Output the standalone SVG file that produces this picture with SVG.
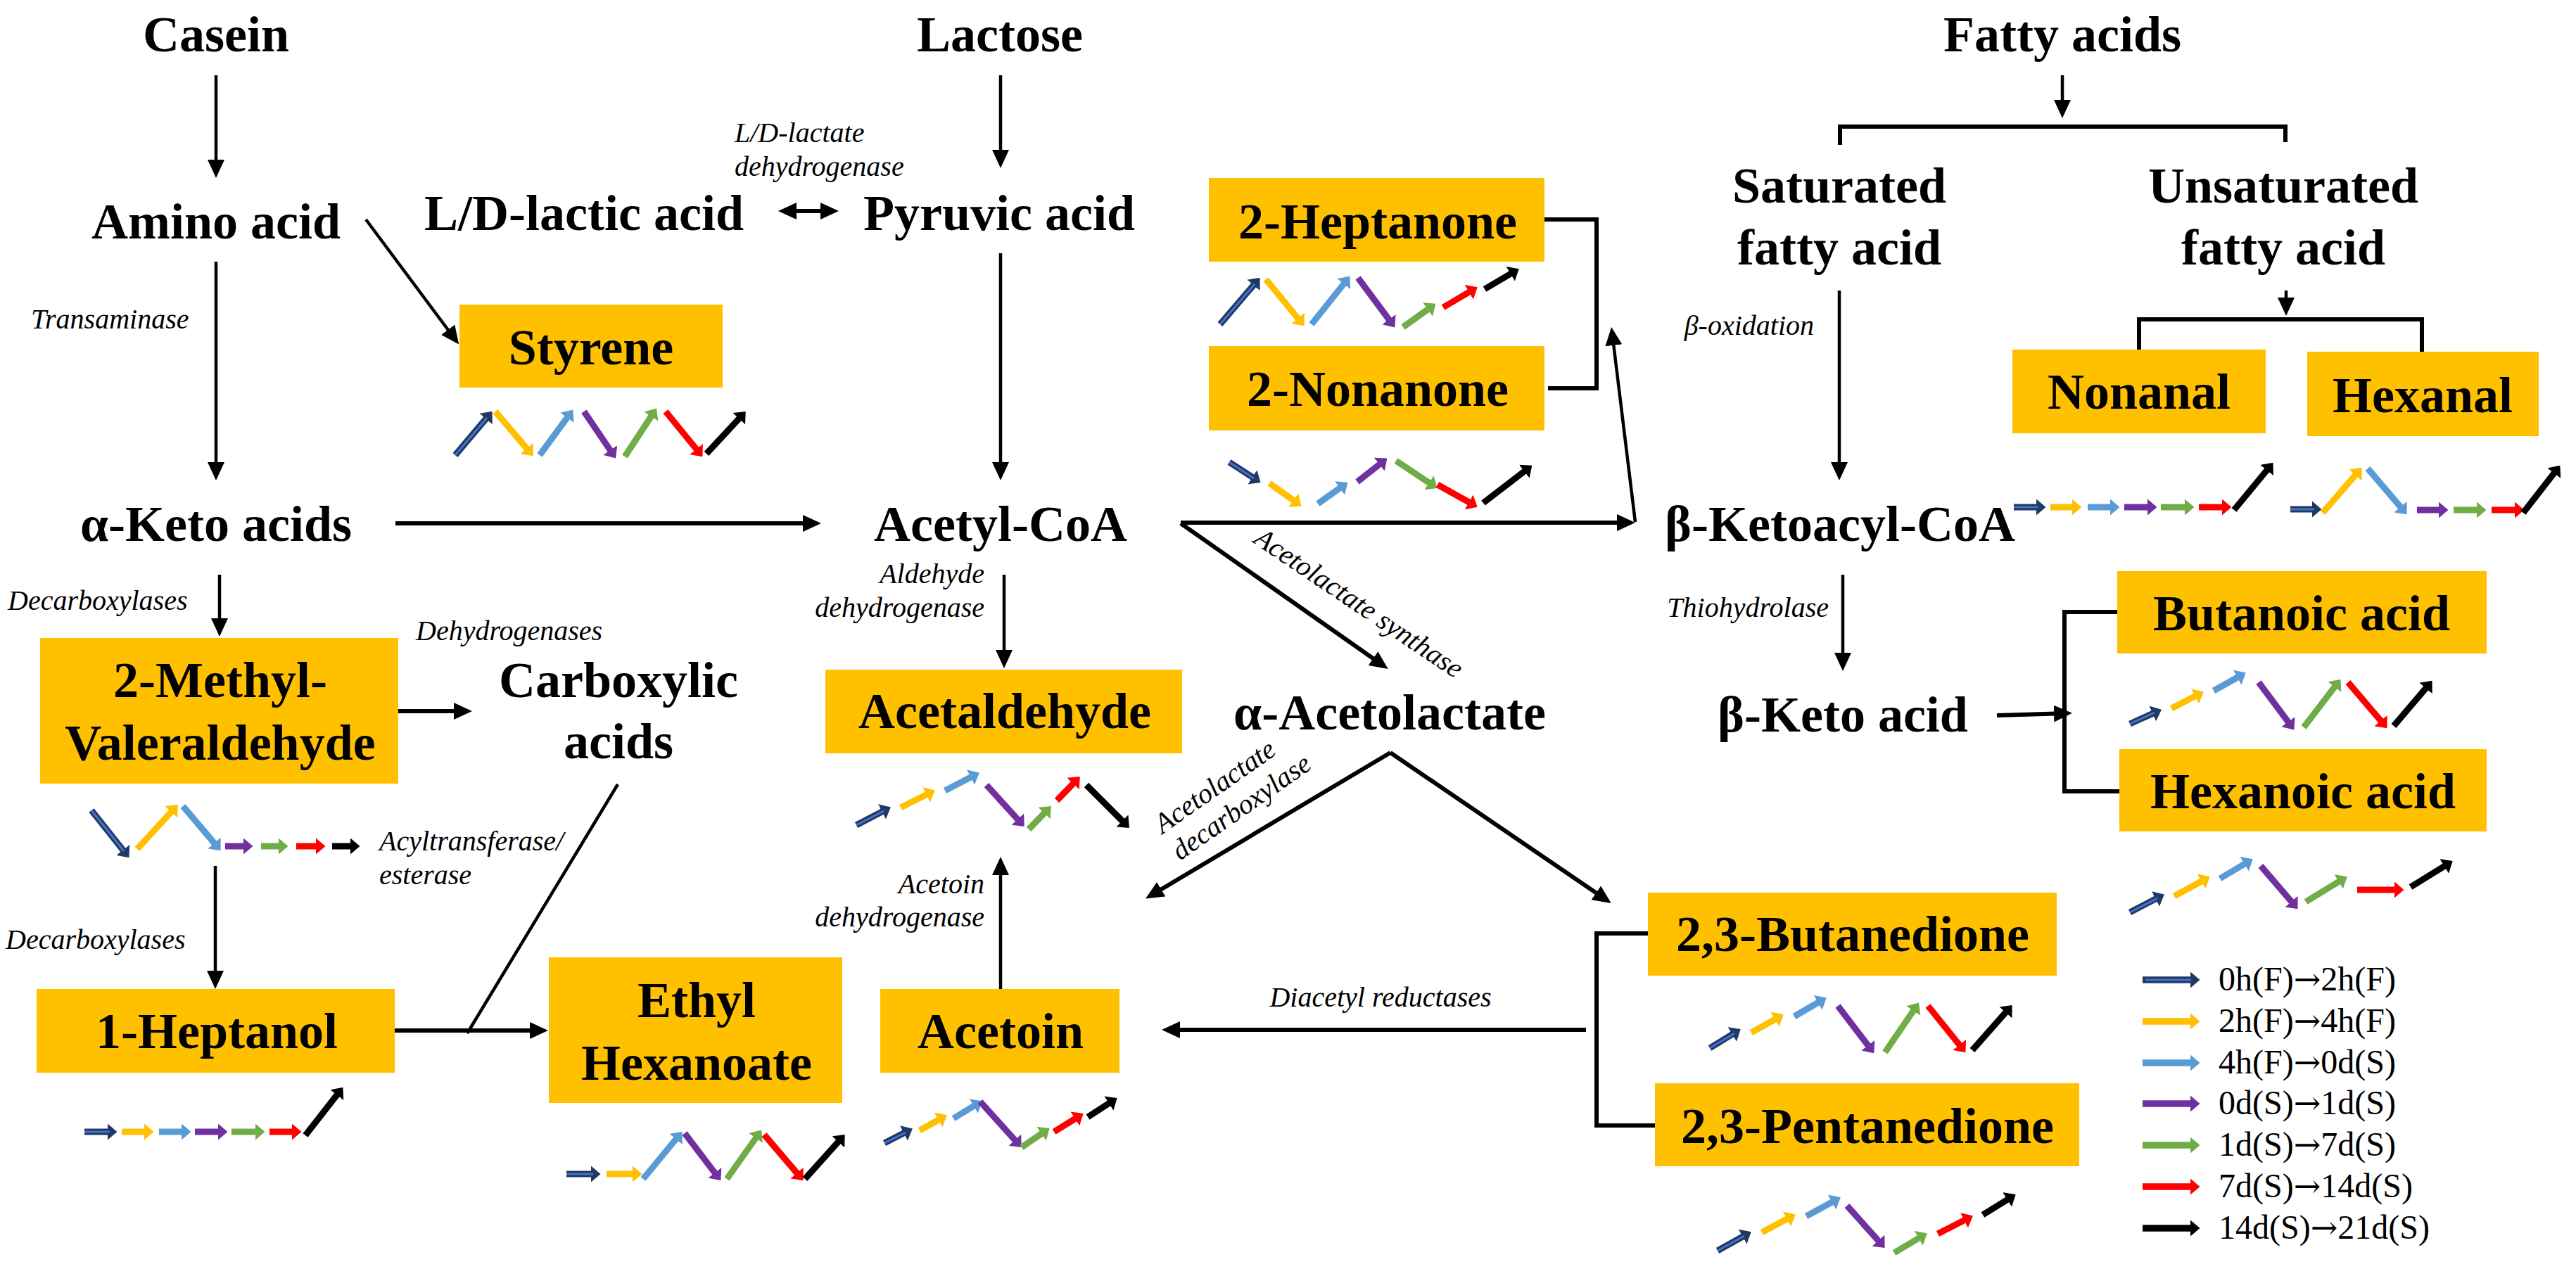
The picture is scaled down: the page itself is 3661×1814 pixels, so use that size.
<svg xmlns="http://www.w3.org/2000/svg" width="3661" height="1814" viewBox="0 0 3661 1814">
<defs>
<style>
.box{fill:#FFC000}
.t{font-family:"Liberation Serif","Times New Roman",serif;font-weight:bold;font-size:72px;text-anchor:middle;fill:#000}
.e{font-family:"Liberation Serif","Times New Roman",serif;font-style:italic;font-size:40px;fill:#000}
.er{text-anchor:end}
.em{text-anchor:middle}
.lg{font-family:"Liberation Serif","Times New Roman",serif;font-size:48px;fill:#000}
.ar{font-family:"DejaVu Serif",serif;font-size:46px}
.c1{stroke:#000;stroke-width:4.5;fill:none;marker-end:url(#ah)}
.c2{stroke:#000;stroke-width:6;fill:none;marker-end:url(#ah)}
.ln{stroke:#000;stroke-width:4.5;fill:none}
.br{stroke:#000;stroke-width:6;fill:none}
.tr line{stroke-width:9;fill:none}
.tr line.a1i{stroke:#4472C4;stroke-width:3}
.lgA line{stroke-width:9.5}
.lgA line.a1i{stroke:#4472C4;stroke-width:3}
.a1{stroke:#203864;marker-end:url(#m1)}
.a2{stroke:#FFC000;marker-end:url(#m2)}
.a3{stroke:#5B9BD5;marker-end:url(#m3)}
.a4{stroke:#7030A0;marker-end:url(#m4)}
.a5{stroke:#70AD47;marker-end:url(#m5)}
.a6{stroke:#FF0000;marker-end:url(#m6)}
.a7{stroke:#000000;marker-end:url(#m7)}
</style>
<marker id="ah" markerUnits="userSpaceOnUse" viewBox="0 0 26 24" markerWidth="26" markerHeight="24" refX="19" refY="12" orient="auto-start-reverse"><path d="M0,0 L26,12 L0,24 z" fill="#000"/></marker>
<marker id="m1" markerUnits="userSpaceOnUse" viewBox="0 0 14 24" markerWidth="14" markerHeight="24" refX="8.5" refY="12" orient="auto"><path d="M0,0 L14,12 L0,24 z" fill="#203864"/></marker>
<marker id="m2" markerUnits="userSpaceOnUse" viewBox="0 0 14 24" markerWidth="14" markerHeight="24" refX="8.5" refY="12" orient="auto"><path d="M0,0 L14,12 L0,24 z" fill="#FFC000"/></marker>
<marker id="m3" markerUnits="userSpaceOnUse" viewBox="0 0 14 24" markerWidth="14" markerHeight="24" refX="8.5" refY="12" orient="auto"><path d="M0,0 L14,12 L0,24 z" fill="#5B9BD5"/></marker>
<marker id="m4" markerUnits="userSpaceOnUse" viewBox="0 0 14 24" markerWidth="14" markerHeight="24" refX="8.5" refY="12" orient="auto"><path d="M0,0 L14,12 L0,24 z" fill="#7030A0"/></marker>
<marker id="m5" markerUnits="userSpaceOnUse" viewBox="0 0 14 24" markerWidth="14" markerHeight="24" refX="8.5" refY="12" orient="auto"><path d="M0,0 L14,12 L0,24 z" fill="#70AD47"/></marker>
<marker id="m6" markerUnits="userSpaceOnUse" viewBox="0 0 14 24" markerWidth="14" markerHeight="24" refX="8.5" refY="12" orient="auto"><path d="M0,0 L14,12 L0,24 z" fill="#FF0000"/></marker>
<marker id="m7" markerUnits="userSpaceOnUse" viewBox="0 0 14 24" markerWidth="14" markerHeight="24" refX="8.5" refY="12" orient="auto"><path d="M0,0 L14,12 L0,24 z" fill="#000000"/></marker>
</defs>
<rect x="0" y="0" width="3661" height="1814" fill="#fff"/>

<g id="connectors">
<line class="c1" x1="307" y1="107" x2="307" y2="246"/>
<line class="c1" x1="307" y1="372" x2="307" y2="676"/>
<line class="c1" x1="520" y1="312" x2="648" y2="484"/>
<line class="c1" x1="1422" y1="107" x2="1422" y2="232"/>
<line class="c1" x1="1422" y1="360" x2="1422" y2="676"/>
<line class="c1" x1="1427" y1="817" x2="1427" y2="943"/>
<line class="c1" x1="312" y1="817" x2="312" y2="898"/>
<line class="c1" x1="306" y1="1231" x2="306" y2="1399"/>
<line class="ln" x1="878" y1="1115" x2="664" y2="1469"/>
<line class="c1" x1="1422" y1="1406" x2="1422" y2="1225"/>
<line class="c1" x1="2614" y1="413" x2="2614" y2="676"/>
<line class="c1" x1="2931" y1="107" x2="2931" y2="161"/>
<line class="c1" x1="3249" y1="413" x2="3249" y2="442"/>
<line class="c1" x1="2619" y1="817" x2="2619" y2="947"/>
<line class="c1" x1="2324" y1="742" x2="2291" y2="472"/>
<line class="c2" x1="1113" y1="300" x2="1185" y2="300" marker-start="url(#ah)"/>
<line class="c2" x1="562" y1="744" x2="1160" y2="744"/>
<line class="c2" x1="1678" y1="743" x2="2317" y2="743"/>
<line class="c2" x1="1678" y1="744" x2="1967" y2="947"/>
<line class="c2" x1="566" y1="1011" x2="664" y2="1011"/>
<line class="c2" x1="561" y1="1465" x2="772" y2="1465"/>
<line class="c2" x1="1976" y1="1070" x2="1634" y2="1274"/>
<line class="c2" x1="1976" y1="1070" x2="2284" y2="1280"/>
<line class="c2" x1="2254" y1="1464" x2="1658" y2="1464"/>
<line class="c2" x1="2838" y1="1017" x2="2938" y2="1014"/>
<polyline class="br" points="2195,312 2269,312 2269,552 2200,552"/>
<polyline class="br" points="2342,1327 2269,1327 2269,1600 2352,1600"/>
<polyline class="br" points="2615,206 2615,180 3248,180 3248,202"/>
<polyline class="br" points="3040,497 3040,454 3442,454 3442,500"/>
<polyline class="br" points="3009,870 2934,870 2934,1125 3012,1125"/>
</g>

<g id="enzyme-labels">
<text class="e" x="1044" y="202">L/D-lactate</text>
<text class="e" x="1044" y="250">dehydrogenase</text>
<text class="e" x="44" y="467">Transaminase</text>
<text class="e" x="11" y="867">Decarboxylases</text>
<text class="e" x="591" y="910">Dehydrogenases</text>
<text class="e" x="539" y="1209">Acyltransferase/</text>
<text class="e" x="539" y="1257">esterase</text>
<text class="e" x="8" y="1349">Decarboxylases</text>
<text class="e er" x="1399" y="829">Aldehyde</text>
<text class="e er" x="1399" y="877">dehydrogenase</text>
<text class="e em" transform="translate(1924,868) rotate(34)">Acetolactate synthase</text>
<text class="e" transform="translate(1652,1186) rotate(-35)">Acetolactate</text>
<text class="e" transform="translate(1677,1224) rotate(-35)">decarboxylase</text>
<text class="e er" x="1399" y="1270">Acetoin</text>
<text class="e er" x="1399" y="1317">dehydrogenase</text>
<text class="e em" x="1962" y="1431">Diacetyl reductases</text>
<text class="e er" x="2578" y="476">β-oxidation</text>
<text class="e er" x="2599" y="877">Thiohydrolase</text>
</g>

<g id="casein"><text class="t" x="307" y="73">Casein</text></g>
<g id="lactose"><text class="t" x="1421" y="73">Lactose</text></g>
<g id="fatty-acids"><text class="t" x="2931" y="73">Fatty acids</text></g>
<g id="amino-acid"><text class="t" x="307" y="339">Amino acid</text></g>
<g id="lactic-acid"><text class="t" x="830" y="327">L/D-lactic acid</text></g>
<g id="pyruvic-acid"><text class="t" x="1420" y="327">Pyruvic acid</text></g>
<g id="saturated"><text class="t" x="2614" y="288">Saturated</text><text class="t" x="2614" y="376">fatty acid</text></g>
<g id="unsaturated"><text class="t" x="3245" y="288">Unsaturated</text><text class="t" x="3245" y="376">fatty acid</text></g>
<g id="keto-acids"><text class="t" x="307" y="769">α-Keto acids</text></g>
<g id="acetyl-coa"><text class="t" x="1422" y="769">Acetyl-CoA</text></g>
<g id="ketoacyl-coa"><text class="t" x="2615" y="769">β-Ketoacyl-CoA</text></g>
<g id="carboxylic-acids"><text class="t" x="879" y="991">Carboxylic</text><text class="t" x="879" y="1078">acids</text></g>
<g id="acetolactate"><text class="t" x="1975" y="1037">α-Acetolactate</text></g>
<g id="beta-keto-acid"><text class="t" x="2619" y="1040">β-Keto acid</text></g>

<g id="styrene"><rect class="box" x="653" y="433" width="374" height="118"/><text class="t" x="840" y="518">Styrene</text></g>
<g id="heptanone"><rect class="box" x="1718" y="253" width="477" height="119"/><text class="t" x="1958" y="339">2-Heptanone</text></g>
<g id="nonanone"><rect class="box" x="1718" y="492" width="477" height="120"/><text class="t" x="1958" y="577">2-Nonanone</text></g>
<g id="nonanal"><rect class="box" x="2860" y="497" width="360" height="119"/><text class="t" x="3040" y="581">Nonanal</text></g>
<g id="hexanal"><rect class="box" x="3279" y="500" width="329" height="120"/><text class="t" x="3443" y="586">Hexanal</text></g>
<g id="methylvaleraldehyde"><rect class="box" x="57" y="907" width="509" height="207"/><text class="t" x="313" y="991">2-Methyl-</text><text class="t" x="313" y="1080">Valeraldehyde</text></g>
<g id="acetaldehyde"><rect class="box" x="1173" y="952" width="507" height="119"/><text class="t" x="1428" y="1035">Acetaldehyde</text></g>
<g id="butanoic-acid"><rect class="box" x="3009" y="812" width="525" height="117"/><text class="t" x="3271" y="896">Butanoic acid</text></g>
<g id="hexanoic-acid"><rect class="box" x="3012" y="1065" width="522" height="117"/><text class="t" x="3273" y="1149">Hexanoic acid</text></g>
<g id="heptanol"><rect class="box" x="52" y="1406" width="509" height="119"/><text class="t" x="308" y="1490">1-Heptanol</text></g>
<g id="ethyl-hexanoate"><rect class="box" x="780" y="1361" width="417" height="207"/><text class="t" x="990" y="1446">Ethyl</text><text class="t" x="990" y="1535">Hexanoate</text></g>
<g id="acetoin"><rect class="box" x="1251" y="1406" width="340" height="119"/><text class="t" x="1422" y="1490">Acetoin</text></g>
<g id="butanedione"><rect class="box" x="2342" y="1269" width="581" height="118"/><text class="t" x="2633" y="1352">2,3-Butanedione</text></g>
<g id="pentanedione"><rect class="box" x="2352" y="1540" width="603" height="118"/><text class="t" x="2654" y="1625">2,3-Pentanedione</text></g>

<g id="trend-styrene" class="tr">
<line class="a1" x1="647" y1="647" x2="696" y2="589"/><line class="a1i" x1="647" y1="647" x2="692" y2="594"/>
<line class="a2" x1="704" y1="585" x2="754" y2="644"/>
<line class="a3" x1="767" y1="647" x2="811" y2="587"/>
<line class="a4" x1="830" y1="585" x2="872" y2="647"/>
<line class="a5" x1="888" y1="649" x2="930" y2="585"/>
<line class="a6" x1="946" y1="585" x2="995" y2="645"/>
<line class="a7" x1="1004" y1="645" x2="1056" y2="589"/>
</g>
<g id="trend-heptanone" class="tr">
<line class="a1" x1="1734" y1="461" x2="1787" y2="399"/><line class="a1i" x1="1734" y1="461" x2="1783" y2="404"/>
<line class="a2" x1="1799" y1="397" x2="1850" y2="459"/>
<line class="a3" x1="1864" y1="461" x2="1915" y2="397"/>
<line class="a4" x1="1930" y1="395" x2="1979" y2="461"/>
<line class="a5" x1="1994" y1="465" x2="2036" y2="435"/>
<line class="a6" x1="2051" y1="437" x2="2095" y2="411"/>
<line class="a7" x1="2110" y1="411" x2="2154" y2="385"/>
</g>
<g id="trend-nonanone" class="tr">
<line class="a1" x1="1747" y1="657" x2="1787" y2="683"/><line class="a1i" x1="1747" y1="657" x2="1782" y2="680"/>
<line class="a2" x1="1804" y1="687" x2="1845" y2="716"/>
<line class="a3" x1="1873" y1="716" x2="1911" y2="689"/>
<line class="a4" x1="1929" y1="685" x2="1967" y2="655"/>
<line class="a5" x1="1984" y1="655" x2="2038" y2="691"/>
<line class="a6" x1="2043" y1="689" x2="2095" y2="718"/>
<line class="a7" x1="2108" y1="715" x2="2173" y2="665"/>
</g>
<g id="trend-nonanal" class="tr">
<line class="a1" x1="2862" y1="721" x2="2902" y2="721"/><line class="a1i" x1="2862" y1="721" x2="2897" y2="721"/>
<line class="a2" x1="2914" y1="721" x2="2953" y2="721"/>
<line class="a3" x1="2967" y1="721" x2="3007" y2="721"/>
<line class="a4" x1="3019" y1="721" x2="3060" y2="721"/>
<line class="a5" x1="3071" y1="721" x2="3113" y2="721"/>
<line class="a6" x1="3125" y1="721" x2="3166" y2="721"/>
<line class="a7" x1="3175" y1="725" x2="3227" y2="662"/>
</g>
<g id="trend-hexanal" class="tr">
<line class="a1" x1="3255" y1="724" x2="3294" y2="724"/><line class="a1i" x1="3255" y1="724" x2="3289" y2="724"/>
<line class="a2" x1="3301" y1="729" x2="3353" y2="669"/>
<line class="a3" x1="3365" y1="666" x2="3417" y2="727"/>
<line class="a4" x1="3435" y1="725" x2="3474" y2="725"/>
<line class="a5" x1="3487" y1="725" x2="3528" y2="725"/>
<line class="a6" x1="3541" y1="725" x2="3582" y2="725"/>
<line class="a7" x1="3586" y1="729" x2="3635" y2="666"/>
</g>
<g id="trend-methylvaleraldehyde" class="tr">
<line class="a1" x1="130" y1="1152" x2="180" y2="1215"/><line class="a1i" x1="130" y1="1152" x2="176" y2="1210"/>
<line class="a2" x1="195" y1="1207" x2="249" y2="1148"/>
<line class="a3" x1="260" y1="1146" x2="310" y2="1205"/>
<line class="a4" x1="320" y1="1203" x2="354" y2="1203"/>
<line class="a5" x1="371" y1="1203" x2="404" y2="1203"/>
<line class="a6" x1="421" y1="1203" x2="457" y2="1203"/>
<line class="a7" x1="472" y1="1203" x2="506" y2="1203"/>
</g>
<g id="trend-acetaldehyde" class="tr">
<line class="a1" x1="1217" y1="1173" x2="1261" y2="1150"/><line class="a1i" x1="1217" y1="1173" x2="1256" y2="1153"/>
<line class="a2" x1="1280" y1="1148" x2="1324" y2="1126"/>
<line class="a3" x1="1343" y1="1124" x2="1387" y2="1101"/>
<line class="a4" x1="1402" y1="1116" x2="1452" y2="1171"/>
<line class="a5" x1="1462" y1="1179" x2="1490" y2="1150"/>
<line class="a6" x1="1502" y1="1138" x2="1531" y2="1108"/>
<line class="a7" x1="1544" y1="1116" x2="1601" y2="1173"/>
</g>
<g id="trend-heptanol" class="tr">
<line class="a1" x1="120" y1="1609" x2="161" y2="1609"/><line class="a1i" x1="120" y1="1609" x2="156" y2="1609"/>
<line class="a2" x1="173" y1="1609" x2="213" y2="1609"/>
<line class="a3" x1="226" y1="1609" x2="266" y2="1609"/>
<line class="a4" x1="277" y1="1609" x2="318" y2="1609"/>
<line class="a5" x1="329" y1="1609" x2="371" y2="1609"/>
<line class="a6" x1="383" y1="1609" x2="423" y2="1609"/>
<line class="a7" x1="434" y1="1614" x2="484" y2="1550"/>
</g>
<g id="trend-ethyl-hexanoate" class="tr">
<line class="a1" x1="805" y1="1669" x2="848" y2="1669"/><line class="a1i" x1="805" y1="1669" x2="843" y2="1669"/>
<line class="a2" x1="862" y1="1669" x2="907" y2="1669"/>
<line class="a3" x1="914" y1="1676" x2="966" y2="1613"/>
<line class="a4" x1="973" y1="1611" x2="1021" y2="1674"/>
<line class="a5" x1="1033" y1="1676" x2="1079" y2="1611"/>
<line class="a6" x1="1086" y1="1613" x2="1138" y2="1674"/>
<line class="a7" x1="1144" y1="1676" x2="1197" y2="1617"/>
</g>
<g id="trend-acetoin" class="tr">
<line class="a1" x1="1257" y1="1625" x2="1292" y2="1607"/><line class="a1i" x1="1257" y1="1625" x2="1287" y2="1610"/>
<line class="a2" x1="1307" y1="1607" x2="1341" y2="1588"/>
<line class="a3" x1="1355" y1="1590" x2="1391" y2="1568"/>
<line class="a4" x1="1393" y1="1566" x2="1448" y2="1627"/>
<line class="a5" x1="1452" y1="1631" x2="1487" y2="1607"/>
<line class="a6" x1="1498" y1="1609" x2="1535" y2="1586"/>
<line class="a7" x1="1546" y1="1588" x2="1583" y2="1564"/>
</g>
<g id="trend-butanoic-acid" class="tr">
<line class="a1" x1="3027" y1="1029" x2="3067" y2="1011"/><line class="a1i" x1="3027" y1="1029" x2="3062" y2="1013"/>
<line class="a2" x1="3086" y1="1007" x2="3127" y2="986"/>
<line class="a3" x1="3146" y1="982" x2="3187" y2="959"/>
<line class="a4" x1="3210" y1="970" x2="3257" y2="1033"/>
<line class="a5" x1="3274" y1="1034" x2="3323" y2="970"/>
<line class="a6" x1="3337" y1="970" x2="3389" y2="1031"/>
<line class="a7" x1="3402" y1="1032" x2="3453" y2="972"/>
</g>
<g id="trend-hexanoic-acid" class="tr">
<line class="a1" x1="3027" y1="1297" x2="3071" y2="1274"/><line class="a1i" x1="3027" y1="1297" x2="3066" y2="1277"/>
<line class="a2" x1="3090" y1="1274" x2="3136" y2="1249"/>
<line class="a3" x1="3155" y1="1249" x2="3197" y2="1224"/>
<line class="a4" x1="3213" y1="1231" x2="3262" y2="1288"/>
<line class="a5" x1="3277" y1="1282" x2="3331" y2="1249"/>
<line class="a6" x1="3350" y1="1265" x2="3411" y2="1265"/>
<line class="a7" x1="3426" y1="1261" x2="3481" y2="1227"/>
</g>
<g id="trend-butanedione" class="tr">
<line class="a1" x1="2430" y1="1490" x2="2469" y2="1466"/><line class="a1i" x1="2430" y1="1490" x2="2465" y2="1469"/>
<line class="a2" x1="2489" y1="1468" x2="2530" y2="1445"/>
<line class="a3" x1="2550" y1="1445" x2="2591" y2="1421"/>
<line class="a4" x1="2612" y1="1430" x2="2660" y2="1493"/>
<line class="a5" x1="2679" y1="1496" x2="2724" y2="1430"/>
<line class="a6" x1="2740" y1="1430" x2="2790" y2="1492"/>
<line class="a7" x1="2803" y1="1493" x2="2856" y2="1433"/>
</g>
<g id="trend-pentanedione" class="tr">
<line class="a1" x1="2441" y1="1778" x2="2484" y2="1754"/><line class="a1i" x1="2441" y1="1778" x2="2479" y2="1757"/>
<line class="a2" x1="2504" y1="1752" x2="2547" y2="1729"/>
<line class="a3" x1="2567" y1="1729" x2="2611" y2="1705"/>
<line class="a4" x1="2625" y1="1714" x2="2675" y2="1770"/>
<line class="a5" x1="2692" y1="1781" x2="2734" y2="1756"/>
<line class="a6" x1="2754" y1="1754" x2="2799" y2="1731"/>
<line class="a7" x1="2818" y1="1727" x2="2860" y2="1701"/>
</g>

<g id="legend">
<g class="lgA">
<line class="a1" x1="3045" y1="1393" x2="3121" y2="1393"/><line class="a1i" x1="3049" y1="1393" x2="3114" y2="1393"/>
<line class="a2" x1="3045" y1="1452" x2="3121" y2="1452"/>
<line class="a3" x1="3045" y1="1511" x2="3121" y2="1511"/>
<line class="a4" x1="3045" y1="1569" x2="3121" y2="1569"/>
<line class="a5" x1="3045" y1="1628" x2="3121" y2="1628"/>
<line class="a6" x1="3045" y1="1687" x2="3121" y2="1687"/>
<line class="a7" x1="3045" y1="1746" x2="3121" y2="1746"/>
</g>
<text class="lg" x="3153" y="1408">0h(F)<tspan class="ar">→</tspan>2h(F)</text>
<text class="lg" x="3153" y="1467">2h(F)<tspan class="ar">→</tspan>4h(F)</text>
<text class="lg" x="3153" y="1526">4h(F)<tspan class="ar">→</tspan>0d(S)</text>
<text class="lg" x="3153" y="1584">0d(S)<tspan class="ar">→</tspan>1d(S)</text>
<text class="lg" x="3153" y="1643">1d(S)<tspan class="ar">→</tspan>7d(S)</text>
<text class="lg" x="3153" y="1702">7d(S)<tspan class="ar">→</tspan>14d(S)</text>
<text class="lg" x="3153" y="1761">14d(S)<tspan class="ar">→</tspan>21d(S)</text>
</g>
</svg>
